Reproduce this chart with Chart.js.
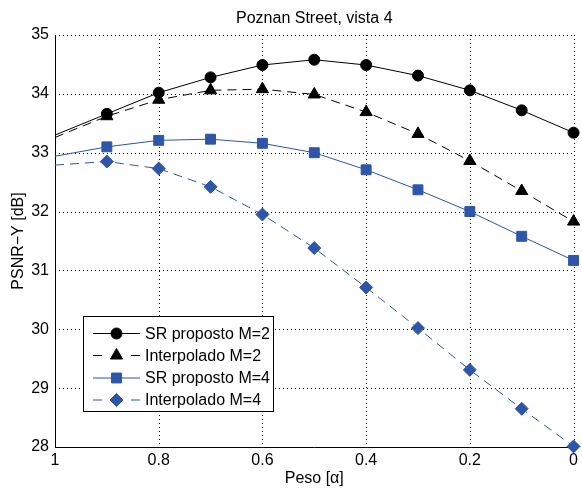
<!DOCTYPE html>
<html>
<head>
<meta charset="utf-8">
<script src="https://cdn.jsdelivr.net/npm/chart.js@4.4.0/dist/chart.umd.min.js"></script>
<style>
  html, body { margin: 0; padding: 0; background: #fff; }
  #wrap { width: 582px; height: 488px; }
</style>
</head>
<body>
<div id="wrap"><canvas id="psnrChart" width="582" height="488"></canvas></div>
<script>
// peso alpha, from 1 down to 0 (x axis is reversed)
const pesos = [1, 0.9, 0.8, 0.7, 0.6, 0.5, 0.4, 0.3, 0.2, 0.1, 0];
const srM2 = [33.30, 33.66, 34.02, 34.28, 34.49, 34.58, 34.49, 34.31, 34.06, 33.72, 33.34];
const interpM2 = [33.26, 33.62, 33.90, 34.06, 34.08, 33.99, 33.69, 33.32, 32.86, 32.35, 31.83];
const srM4 = [32.94, 33.10, 33.21, 33.23, 33.16, 33.00, 32.71, 32.37, 32.00, 31.58, 31.17];
const interpM4 = [32.79, 32.85, 32.73, 32.42, 31.95, 31.38, 30.71, 30.02, 29.31, 28.65, 28.01];
const labels = ['SR proposto M=2', 'Interpolado M=2', 'SR proposto M=4', 'Interpolado M=4'];
const xTicks = [1, 0.8, 0.6, 0.4, 0.2, 0];
const yTicks = [28, 29, 30, 31, 32, 33, 34, 35];

const FONT = "'Liberation Sans', Arial, Helvetica, sans-serif";
const FSIZE = 16;
const BLUE = '#2d55a8';

function pts(values) {
	return pesos.map(function (p, i) { return { x: p, y: values[i] }; });
}

// no marker at alpha = 1, the line just runs to the axis
function radiusFor(r) {
	return function (ctx) { return ctx.dataIndex === 0 ? 0 : r; };
}

const styles = [
	{ color: '#000', dash: [], marker: 'circle', r: 5.5 },
	{ color: '#000', dash: [9, 6], marker: 'triangle', r: 7 },
	{ color: BLUE, dash: [], marker: 'rect', r: 7 },
	{ color: BLUE, dash: [9, 6], marker: 'rectRot', r: 6.5 }
];
const series = [srM2, interpM2, srM4, interpM4];

const datasets = series.map(function (vals, i) {
	const s = styles[i];
	return {
		label: labels[i],
		data: pts(vals),
		borderColor: s.color,
		backgroundColor: s.color,
		borderWidth: 1,
		borderDash: s.dash,
		pointStyle: s.marker,
		pointRadius: radiusFor(s.r),
		pointBorderWidth: 1,
		pointBorderColor: s.color,
		pointBackgroundColor: s.color,
		tension: 0,
		clip: false
	};
});

// marker drawing for the legend (same shapes as chart.js)
function marker(ctx, style, x, y, r) {
	ctx.beginPath();
	if (style === 'circle') {
		ctx.arc(x, y, r, 0, Math.PI * 2);
	} else if (style === 'triangle') {
		ctx.moveTo(x, y - r);
		ctx.lineTo(x + r * Math.cos(Math.PI / 6), y + r / 2);
		ctx.lineTo(x - r * Math.cos(Math.PI / 6), y + r / 2);
	} else if (style === 'rect') {
		const s = Math.SQRT1_2 * r;
		ctx.rect(x - s, y - s, 2 * s, 2 * s);
	} else {
		ctx.moveTo(x - r, y);
		ctx.lineTo(x, y - r);
		ctx.lineTo(x + r, y);
		ctx.lineTo(x, y + r);
	}
	ctx.closePath();
	ctx.fill();
	ctx.stroke();
}

// matlab style: dotted grid, solid axis lines on left and bottom
const dottedGrid = {
	id: 'dottedGrid',
	beforeDatasetsDraw: function (chart) {
		const ctx = chart.ctx;
		const a = chart.chartArea;
		const xs = chart.scales.x, ys = chart.scales.y;
		ctx.save();
		ctx.strokeStyle = '#000';
		ctx.lineWidth = 1;
		ctx.setLineDash([1, 3]);
		xs.ticks.forEach(function (t) {
			const px = Math.round(xs.getPixelForValue(t.value)) + 0.5;
			ctx.beginPath(); ctx.moveTo(px, a.top); ctx.lineTo(px, a.bottom); ctx.stroke();
		});
		ys.ticks.forEach(function (t) {
			const py = Math.round(ys.getPixelForValue(t.value)) + 0.5;
			ctx.beginPath(); ctx.moveTo(a.left, py); ctx.lineTo(a.right, py); ctx.stroke();
		});
		ctx.setLineDash([]);
		ctx.beginPath();
		ctx.moveTo(Math.round(a.left) + 0.5, a.top);
		ctx.lineTo(Math.round(a.left) + 0.5, a.bottom + 0.5);
		ctx.lineTo(a.right, a.bottom + 0.5);
		ctx.stroke();
		ctx.restore();
	}
};

const extras = {
	id: 'extras',
	afterDraw: function (chart) {
		const ctx = chart.ctx;
		const area = chart.chartArea;
		ctx.save();
		// title, centred over the plot area
		ctx.fillStyle = '#000';
		ctx.font = FSIZE + 'px ' + FONT;
		ctx.textAlign = 'center';
		ctx.textBaseline = 'alphabetic';
		ctx.fillText('Poznan Street, vista 4', (area.left + area.right) / 2, 23);

		// legend box
		const bx = 83.5, by = 316.5, bw = 190, bh = 95;
		ctx.fillStyle = '#fff';
		ctx.fillRect(bx, by, bw, bh);
		ctx.strokeStyle = '#000';
		ctx.lineWidth = 1;
		ctx.strokeRect(bx, by, bw, bh);

		const rows = [333.5, 355.5, 378, 400];
		for (let i = 0; i < 4; i++) {
			const s = styles[i];
			const y = rows[i];
			ctx.strokeStyle = s.color;
			ctx.fillStyle = s.color;
			ctx.beginPath();
			if (s.dash.length) {
				ctx.moveTo(93, y); ctx.lineTo(102, y);
				ctx.moveTo(131, y); ctx.lineTo(140, y);
			} else {
				ctx.moveTo(93, y); ctx.lineTo(140, y);
			}
			ctx.stroke();
			marker(ctx, s.marker, 116.5, y, s.r);
			ctx.fillStyle = '#000';
			ctx.font = FSIZE + 'px ' + FONT;
			ctx.textAlign = 'left';
			ctx.textBaseline = 'middle';
			ctx.fillText(labels[i], 145, y + 1);
		}
		ctx.restore();
	}
};

const config = {
	type: 'line',
	data: { datasets: datasets },
	plugins: [dottedGrid, extras],
	options: {
		responsive: false,
		animation: false,
		layout: { padding: { top: 35, right: 5, left: 0, bottom: 0 } },
		plugins: {
			legend: { display: false },
			tooltip: { enabled: false }
		},
		scales: {
			x: {
				type: 'linear',
				reverse: true,
				min: 0,
				max: 1,
				afterFit: function (scale) { scale.height = 41; },
				afterBuildTicks: function (scale) {
					scale.ticks = xTicks.map(function (v) { return { value: v }; });
				},
				ticks: {
					color: '#000',
					padding: 4,
					font: { family: FONT, size: FSIZE },
					callback: function (v) { return String(Math.round(v * 10) / 10); }
				},
				grid: { display: false, drawTicks: false },
				border: { display: false },
				title: {
					display: true,
					text: 'Peso [α]',
					color: '#000',
					font: { family: FONT, size: FSIZE },
					padding: { top: 0, bottom: 0 }
				}
			},
			y: {
				min: 28,
				max: 35,
				afterFit: function (scale) { scale.width = 55; },
				afterBuildTicks: function (scale) {
					scale.ticks = yTicks.map(function (v) { return { value: v }; });
				},
				ticks: {
					color: '#000',
					padding: 6,
					font: { family: FONT, size: FSIZE }
				},
				grid: { display: false, drawTicks: false },
				border: { display: false },
				title: {
					display: true,
					text: 'PSNR−Y [dB]',
					color: '#000',
					font: { family: FONT, size: FSIZE },
					padding: { top: 9, bottom: 0 }
				}
			}
		}
	}
};

new Chart(document.getElementById('psnrChart').getContext('2d'), config);
</script>
</body>
</html>
